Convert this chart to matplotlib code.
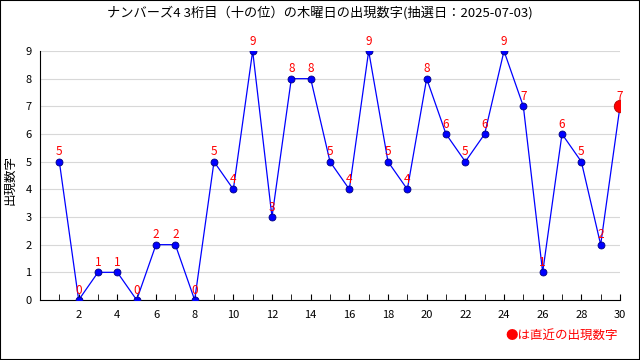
import matplotlib
matplotlib.use("Agg")
import matplotlib.pyplot as plt

plt.rcParams['font.family'] = ['Noto Sans CJK JP', 'DejaVu Sans']

kai = list(range(1, 31))
suji = [5, 0, 1, 1, 0, 2, 2, 0, 5, 4, 9, 3, 8, 8, 5, 4, 9, 5, 4, 8, 6, 5, 6, 9, 7, 1, 6, 5, 2, 7]
title = "ナンバーズ4 3桁目（十の位）の木曜日の出現数字(抽選日：2025-07-03)"

fig = plt.figure(figsize=(6.4, 3.6), dpi=100)
ax = fig.add_axes([40/640, 1-300/360, 580/640, 249/360])

ax.plot(kai, suji, color="blue", lw=0.9, marker="o", ms=5,
        mfc="blue", mec="#000080", mew=0.6, zorder=3)
ax.plot(kai[-1], suji[-1], "o", ms=9, color="red", mec="#b00000", mew=0.6, zorder=4)
for x, y in zip(kai, suji):
    ax.annotate(str(y), (x, y), xytext=(0, 2.5), textcoords="offset points",
                ha="center", va="bottom", color="red", fontsize=8.5, zorder=5)

ax.set_xlim(0, 30)
ax.set_ylim(0, 9)
ax.set_xticks(range(2, 31, 2))
ax.set_xticks(range(1, 31), minor=True)
ax.set_yticks(range(0, 10))
ax.tick_params(axis="x", which="both", direction="in", length=4, labelsize=8, pad=7)
ax.tick_params(axis="y", length=0, labelsize=8, pad=6)
ax.grid(axis="y", color="#d8d8d8", lw=0.8, zorder=0)
for s in ["top", "right"]:
    ax.spines[s].set_visible(False)

fig.text(10/640, 0.5, "出現数字", rotation=90, ha="center", va="center", fontsize=9)
fig.text(0.5, 0.965, title, ha="center", va="center", fontsize=9.5)
fig.text(618/640, 25/360, "●は直近の出現数字", ha="right", va="center", color="red", fontsize=9)
fig.patches.append(plt.Rectangle((0, 0), 1, 1, transform=fig.transFigure,
                                 fill=False, ec="black", lw=1.5))

fig.savefig("out.png", dpi=100)
